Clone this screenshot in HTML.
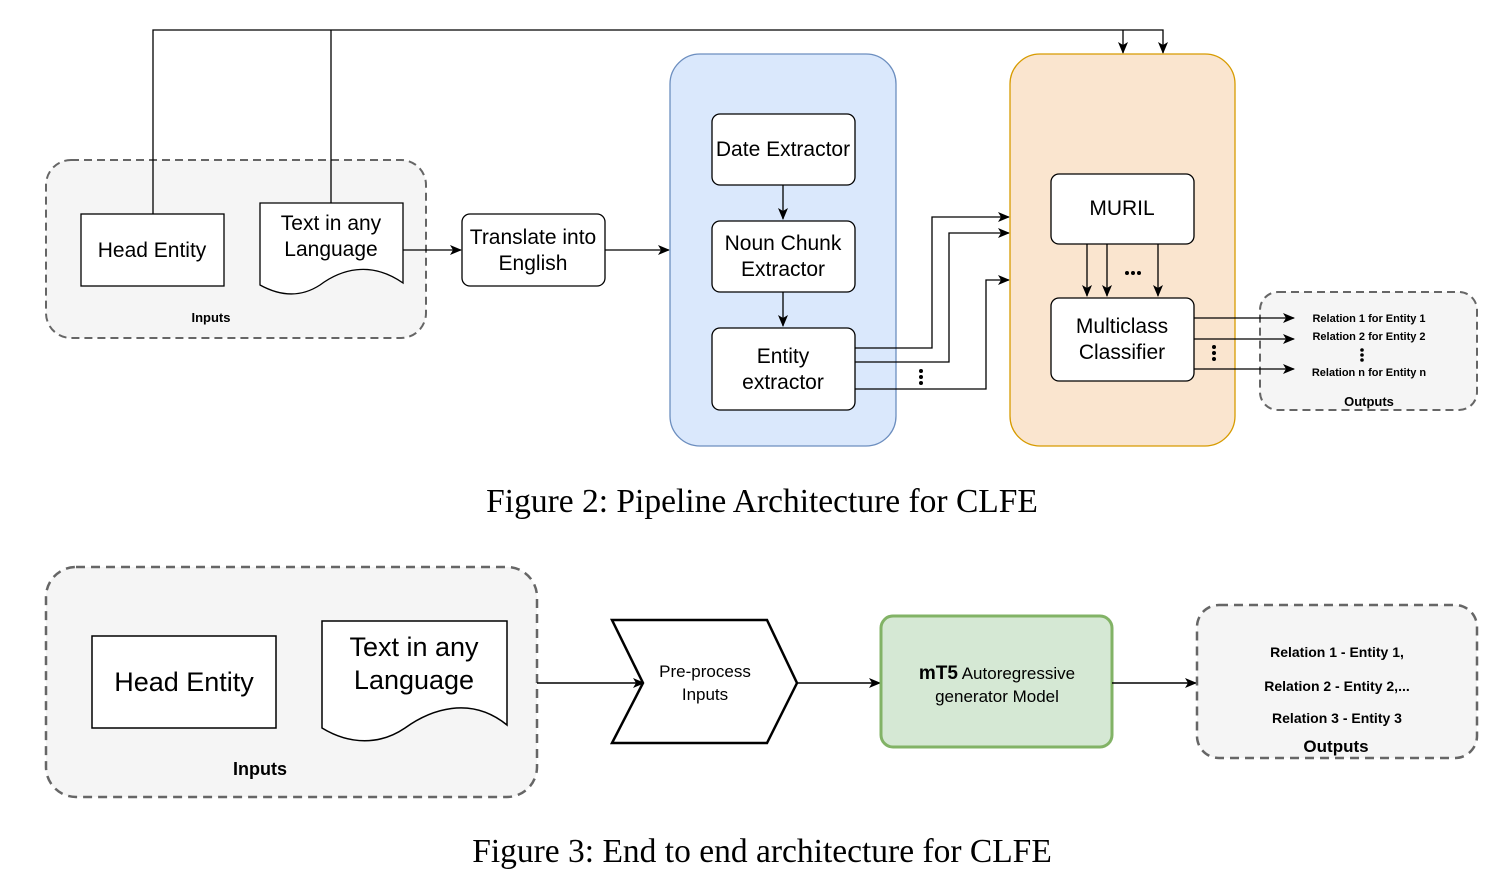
<!DOCTYPE html>
<html><head><style>body{margin:0;background:#fff}svg{display:block}</style></head><body>
<svg width="1502" height="878" viewBox="0 0 1502 878" xmlns="http://www.w3.org/2000/svg" font-family="Liberation Sans, Arial, sans-serif">
<defs><marker id="a" markerWidth="12" markerHeight="10" refX="11" refY="5" orient="auto" markerUnits="userSpaceOnUse"><path d="M0,0 L12,5 L0,10 L3,5 z" fill="#000"/></marker></defs>
<!-- Fig 2 -->
<rect x="46" y="160" width="380" height="178" rx="25" fill="#f5f5f5" stroke="#666" stroke-width="2" stroke-dasharray="8,5"/>
<text x="211" y="322" font-size="13" font-weight="bold" text-anchor="middle">Inputs</text>
<path d="M153,214 V30 H1163 V53" fill="none" stroke="#000" stroke-width="1.3" marker-end="url(#a)"/>
<path d="M331,203 V30" fill="none" stroke="#000" stroke-width="1.3"/>
<path d="M1123,30 V53" fill="none" stroke="#000" stroke-width="1.3" marker-end="url(#a)"/>
<rect x="81" y="214" width="143" height="72" fill="#fff" stroke="#000" stroke-width="1.3"/>
<text x="152" y="257" font-size="21" text-anchor="middle">Head Entity</text>
<path d="M260,203 H403 V283 C370,260 340,270 320,285 C300,298 280,296 260,285 Z" fill="#fff" stroke="#000" stroke-width="1.3"/>
<text x="331" y="230" font-size="21" text-anchor="middle">Text in any</text>
<text x="331" y="256" font-size="21" text-anchor="middle">Language</text>
<path d="M403,250 H461" stroke="#000" stroke-width="1.3" marker-end="url(#a)"/>
<rect x="462" y="214" width="143" height="72" rx="8" fill="#fff" stroke="#000" stroke-width="1.3"/>
<text x="533" y="244" font-size="21" text-anchor="middle">Translate into</text>
<text x="533" y="270" font-size="21" text-anchor="middle">English</text>
<path d="M605,250 H669" stroke="#000" stroke-width="1.3" marker-end="url(#a)"/>
<rect x="670" y="54" width="226" height="392" rx="30" fill="#dae8fc" stroke="#6c8ebf" stroke-width="1.3"/>
<rect x="712" y="114" width="143" height="71" rx="8" fill="#fff" stroke="#000" stroke-width="1.3"/>
<text x="783" y="156" font-size="21" text-anchor="middle">Date Extractor</text>
<path d="M783,185 V219" stroke="#000" stroke-width="1.3" marker-end="url(#a)"/>
<rect x="712" y="221" width="143" height="71" rx="8" fill="#fff" stroke="#000" stroke-width="1.3"/>
<text x="783" y="250" font-size="21" text-anchor="middle">Noun Chunk</text>
<text x="783" y="276" font-size="21" text-anchor="middle">Extractor</text>
<path d="M783,292 V326" stroke="#000" stroke-width="1.3" marker-end="url(#a)"/>
<rect x="712" y="328" width="143" height="82" rx="8" fill="#fff" stroke="#000" stroke-width="1.3"/>
<text x="783" y="363" font-size="21" text-anchor="middle">Entity</text>
<text x="783" y="389" font-size="21" text-anchor="middle">extractor</text>
<path d="M855,348 H932 V217 H1009" fill="none" stroke="#000" stroke-width="1.3" marker-end="url(#a)"/>
<path d="M855,362 H949 V233 H1009" fill="none" stroke="#000" stroke-width="1.3" marker-end="url(#a)"/>
<path d="M855,389 H986 V280 H1009" fill="none" stroke="#000" stroke-width="1.3" marker-end="url(#a)"/>
<g fill="#000"><circle cx="921" cy="371" r="2"/><circle cx="921" cy="377" r="2"/><circle cx="921" cy="383" r="2"/></g>
<rect x="1010" y="54" width="225" height="392" rx="30" fill="#fae5cf" stroke="#d79b00" stroke-width="1.3"/>
<rect x="1051" y="174" width="143" height="70" rx="8" fill="#fff" stroke="#000" stroke-width="1.3"/>
<text x="1122" y="215" font-size="21" text-anchor="middle">MURIL</text>
<path d="M1087,244 V296" stroke="#000" stroke-width="1.3" marker-end="url(#a)"/>
<path d="M1107,244 V296" stroke="#000" stroke-width="1.3" marker-end="url(#a)"/>
<path d="M1158,244 V296" stroke="#000" stroke-width="1.3" marker-end="url(#a)"/>
<g fill="#000"><circle cx="1127" cy="273" r="2"/><circle cx="1133" cy="273" r="2"/><circle cx="1139" cy="273" r="2"/></g>
<rect x="1051" y="298" width="143" height="83" rx="8" fill="#fff" stroke="#000" stroke-width="1.3"/>
<text x="1122" y="333" font-size="21" text-anchor="middle">Multiclass</text>
<text x="1122" y="359" font-size="21" text-anchor="middle">Classifier</text>
<rect x="1260" y="292" width="217" height="118" rx="18" fill="#f5f5f5" stroke="#666" stroke-width="2" stroke-dasharray="8,5"/>
<path d="M1194,318 H1294" stroke="#000" stroke-width="1.3" marker-end="url(#a)"/>
<path d="M1194,339 H1294" stroke="#000" stroke-width="1.3" marker-end="url(#a)"/>
<path d="M1194,369 H1294" stroke="#000" stroke-width="1.3" marker-end="url(#a)"/>
<g fill="#000"><circle cx="1214" cy="347" r="2"/><circle cx="1214" cy="353" r="2"/><circle cx="1214" cy="359" r="2"/><circle cx="1362" cy="350" r="1.8"/><circle cx="1362" cy="355" r="1.8"/><circle cx="1362" cy="360" r="1.8"/></g>
<g font-size="11" font-weight="bold" text-anchor="middle"><text x="1369" y="322">Relation 1 for Entity 1</text><text x="1369" y="340">Relation 2 for Entity 2</text><text x="1369" y="376">Relation n for Entity n</text></g>
<text x="1369" y="406" font-size="13" font-weight="bold" text-anchor="middle">Outputs</text>
<text x="762" y="512" font-size="33.5" font-family="Liberation Serif, serif" text-anchor="middle">Figure 2: Pipeline Architecture for CLFE</text>
<!-- Fig 3 -->
<rect x="46" y="567" width="491" height="230" rx="30" fill="#f5f5f5" stroke="#666" stroke-width="2.5" stroke-dasharray="9,6"/>
<rect x="92" y="636" width="184" height="92" fill="#fff" stroke="#000" stroke-width="1.5"/>
<text x="184" y="691" font-size="27" text-anchor="middle">Head Entity</text>
<path d="M322,621 H507 V725 C470,695 430,710 405,728 C380,745 350,745 322,728 Z" fill="#fff" stroke="#000" stroke-width="1.5"/>
<text x="414" y="656" font-size="27" text-anchor="middle">Text in any</text>
<text x="414" y="689" font-size="27" text-anchor="middle">Language</text>
<text x="260" y="775" font-size="18" font-weight="bold" text-anchor="middle">Inputs</text>
<path d="M537,683 H644" stroke="#000" stroke-width="1.5" marker-end="url(#a)"/>
<path d="M612,620 H767 L797,683 L767,743 H612 L643,683 Z" fill="#fff" stroke="#000" stroke-width="2.5"/>
<text x="705" y="677" font-size="17" text-anchor="middle">Pre-process</text>
<text x="705" y="700" font-size="17" text-anchor="middle">Inputs</text>
<path d="M797,683 H880" stroke="#000" stroke-width="1.5" marker-end="url(#a)"/>
<rect x="881" y="616" width="231" height="131" rx="12" fill="#d5e8d4" stroke="#82b366" stroke-width="3"/>
<text x="997" y="679" font-size="17" text-anchor="middle"><tspan font-weight="bold" font-size="19">mT5</tspan> Autoregressive</text>
<text x="997" y="702" font-size="17" text-anchor="middle">generator Model</text>
<path d="M1112,683 H1196" stroke="#000" stroke-width="1.5" marker-end="url(#a)"/>
<rect x="1197" y="605" width="280" height="153" rx="22" fill="#f5f5f5" stroke="#666" stroke-width="2.5" stroke-dasharray="9,6"/>
<g font-size="14" font-weight="bold" text-anchor="middle"><text x="1337" y="657">Relation 1 - Entity 1,</text><text x="1337" y="691">Relation 2 - Entity 2,...</text><text x="1337" y="723">Relation 3 - Entity 3</text></g>
<text x="1336" y="752" font-size="17" font-weight="bold" text-anchor="middle">Outputs</text>
<text x="762" y="862" font-size="33.5" font-family="Liberation Serif, serif" text-anchor="middle">Figure 3: End to end architecture for CLFE</text>
</svg>
</body></html>
